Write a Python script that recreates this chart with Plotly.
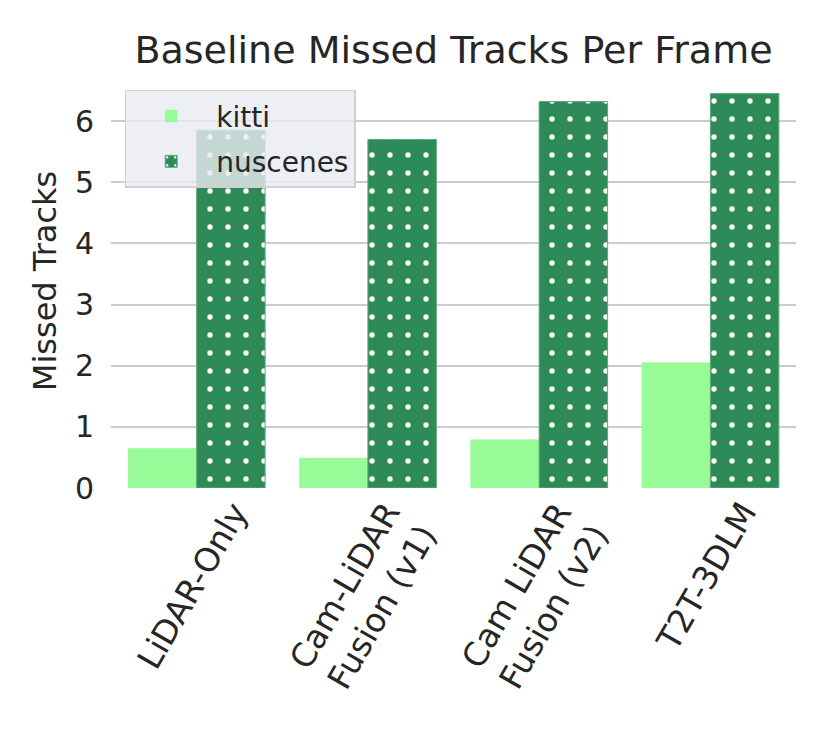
import plotly.graph_objects as go

categories = ["LiDAR-Only", "Cam-LiDAR<br>Fusion (v1)", "Cam LiDAR<br>Fusion (v2)", "T2T-3DLM"]
kitti = [0.65, 0.49, 0.79, 2.05]
nuscenes = [5.85, 5.70, 6.32, 6.45]
y_ticks = [0, 1, 2, 3, 4, 5, 6]

FONT = "DejaVu Sans"
TXT = "#262626"

fig = go.Figure()
fig.add_trace(go.Bar(
    name="kitti", x=categories, y=kitti, legendgroup="k",
    marker=dict(color="#98FB98", line=dict(color="#98FB98", width=0.5)),
))
fig.add_trace(go.Bar(
    name="nuscenes", x=categories, y=nuscenes, legendgroup="n",
    marker=dict(color="#2E8B57", line=dict(color="#5FA97C", width=1),
                pattern=dict(shape=".", fgcolor="white", bgcolor="#2E8B57",
                             size=18, solidity=0.07, fillmode="replace")),
))

# category labels, rotated 60 degrees and centred under each group (matplotlib style)
for c in categories:
    fig.add_annotation(x=c, xref="x", y=0, yref="paper", yshift=-5, xshift=-4,
                       text=c, textangle=-60, showarrow=False,
                       xanchor="center", yanchor="top", align="center",
                       font=dict(size=33, color=TXT, family=FONT))

fig.update_layout(
    width=830, height=755,
    margin=dict(l=103, r=42, t=66, b=275, autoexpand=False),
    paper_bgcolor="white", plot_bgcolor="white",
    barmode="group", bargap=0.2, bargroupgap=0,
    font=dict(family=FONT, color=TXT, size=30),
    title=dict(text="Baseline Missed Tracks Per Frame", x=445.5 / 830, xanchor="center",
               y=1 - 42 / 755, yanchor="middle", yref="container",
               font=dict(size=38, color=TXT, family=FONT)),
    showlegend=True,
    legend=dict(x=0.02, y=0.962, xanchor="left", yanchor="top",
                bgcolor="rgba(234,234,242,0.8)", bordercolor="#d0d0d0", borderwidth=1.5,
                font=dict(size=28, color=TXT, family=FONT),
                itemwidth=80, tracegroupgap=6),
)
fig.update_yaxes(
    range=[0, 6.77], tickvals=y_ticks, showgrid=True, gridcolor="#cccccc", gridwidth=1.5,
    zeroline=False, showline=False, ticks="", ticklabelstandoff=16, automargin=False,
    tickfont=dict(size=30, color=TXT, family=FONT),
    title=dict(text="Missed Tracks", font=dict(size=32, color=TXT, family=FONT), standoff=8),
)
fig.update_xaxes(
    showgrid=False, zeroline=False, showline=False, ticks="", showticklabels=False,
    automargin=False,
)

fig.write_html("out.html")
